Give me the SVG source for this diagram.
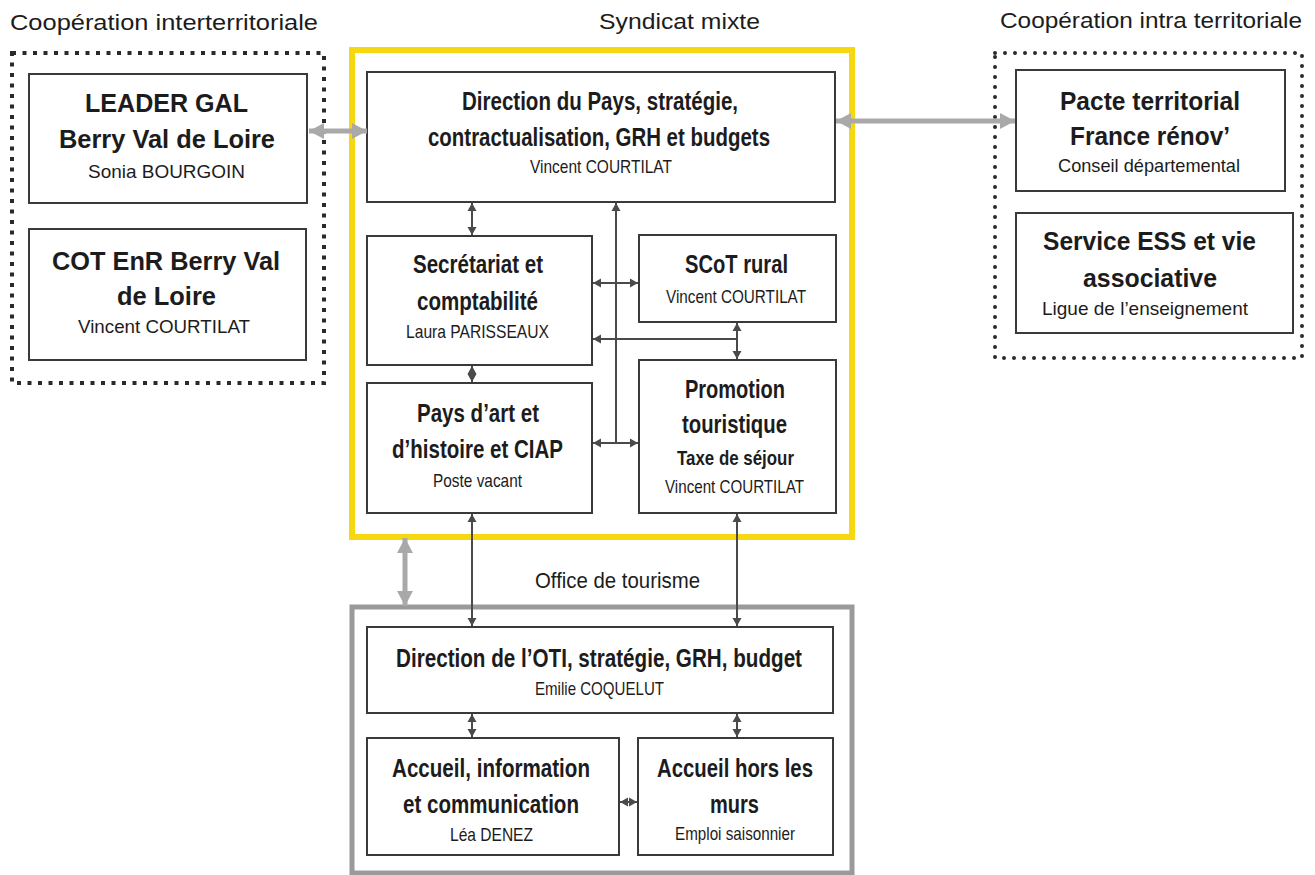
<svg xmlns="http://www.w3.org/2000/svg" width="1315" height="875" viewBox="0 0 1315 875">
<style>
text{font-family:"Liberation Sans Narrow","Liberation Sans",Arial,sans-serif;fill:#1c1c1c;text-anchor:middle}
.t{font-size:22px}
.b{font-size:26px;font-weight:bold}
.bs{font-size:21px;font-weight:bold}
.n{font-size:19px}
.box{fill:#fff;stroke:#3a3a3a;stroke-width:2}
.c{fill:none;stroke:#4a4a4a;stroke-width:2}
.g{fill:none;stroke:#a9a9a9;stroke-width:5}
</style>
<defs>
<marker id="ah" markerUnits="userSpaceOnUse" markerWidth="10" markerHeight="10" refX="8" refY="5" orient="auto-start-reverse">
<path d="M0,0.5 L8,5 L0,9.5 z" fill="#4a4a4a"/>
</marker>
<marker id="gh" markerUnits="userSpaceOnUse" markerWidth="16" markerHeight="16" refX="15" refY="8" orient="auto-start-reverse">
<path d="M0,0 L15,8 L0,16 z" fill="#a9a9a9"/>
</marker>
</defs>
<rect width="1315" height="875" fill="#fff"/>

<g id="titles">
<text class="t" x="164" y="30" textLength="308" lengthAdjust="spacingAndGlyphs">Coopération interterritoriale</text>
<text class="t" x="679.5" y="29" textLength="161" lengthAdjust="spacingAndGlyphs">Syndicat mixte</text>
<text class="t" x="1151" y="28" textLength="302" lengthAdjust="spacingAndGlyphs">Coopération intra territoriale</text>
</g>

<g id="groups">
<rect x="12" y="53" width="312" height="330" fill="none" stroke="#2a2a2a" stroke-width="4" stroke-dasharray="4 6.5"/>
<rect x="995" y="53" width="307" height="305" fill="none" stroke="#2a2a2a" stroke-width="4" stroke-dasharray="0 10" stroke-linecap="round"/>
<rect x="352" y="50" width="500" height="487" fill="none" stroke="#f5d80f" stroke-width="6"/>
<rect x="352" y="607" width="500" height="266" fill="none" stroke="#9a9a9a" stroke-width="5"/>
<text class="t" x="617.5" y="588" textLength="165" lengthAdjust="spacingAndGlyphs">Office de tourisme</text>
</g>

<g id="leader">
<rect class="box" x="29" y="74" width="278" height="129"/>
<text class="b" x="166.5" y="112" textLength="163" lengthAdjust="spacingAndGlyphs">LEADER GAL</text>
<text class="b" x="167" y="148" textLength="216" lengthAdjust="spacingAndGlyphs">Berry Val de Loire</text>
<text class="n" x="166.5" y="178" textLength="157" lengthAdjust="spacingAndGlyphs">Sonia BOURGOIN</text>
</g>
<g id="cot">
<rect class="box" x="29" y="229" width="277" height="131"/>
<text class="b" x="166" y="270" textLength="228" lengthAdjust="spacingAndGlyphs">COT EnR Berry Val</text>
<text class="b" x="166.5" y="305" textLength="99" lengthAdjust="spacingAndGlyphs">de Loire</text>
<text class="n" x="164" y="333" textLength="172" lengthAdjust="spacingAndGlyphs">Vincent COURTILAT</text>
</g>

<g id="direction-pays">
<rect class="box" x="367" y="72" width="468" height="130"/>
<text class="b" x="600" y="110" textLength="276" lengthAdjust="spacingAndGlyphs">Direction du Pays, stratégie,</text>
<text class="b" x="599" y="146" textLength="342" lengthAdjust="spacingAndGlyphs">contractualisation, GRH et budgets</text>
<text class="n" x="601" y="173" textLength="142" lengthAdjust="spacingAndGlyphs">Vincent COURTILAT</text>
</g>
<g id="secretariat">
<rect class="box" x="367" y="236" width="225" height="129"/>
<text class="b" x="478" y="273" textLength="130" lengthAdjust="spacingAndGlyphs">Secrétariat et</text>
<text class="b" x="477.5" y="310" textLength="121" lengthAdjust="spacingAndGlyphs">comptabilité</text>
<text class="n" x="477.5" y="338" textLength="143" lengthAdjust="spacingAndGlyphs">Laura PARISSEAUX</text>
</g>
<g id="scot">
<rect class="box" x="639" y="235" width="197" height="87"/>
<text class="b" x="736.5" y="273" textLength="103" lengthAdjust="spacingAndGlyphs">SCoT rural</text>
<text class="n" x="736" y="303" textLength="140" lengthAdjust="spacingAndGlyphs">Vincent COURTILAT</text>
</g>
<g id="pays-art">
<rect class="box" x="367" y="383" width="225" height="130"/>
<text class="b" x="478" y="422" textLength="122" lengthAdjust="spacingAndGlyphs">Pays d’art et</text>
<text class="b" x="477.5" y="458" textLength="171" lengthAdjust="spacingAndGlyphs">d’histoire et CIAP</text>
<text class="n" x="477.5" y="487" textLength="89" lengthAdjust="spacingAndGlyphs">Poste vacant</text>
</g>
<g id="promotion">
<rect class="box" x="639" y="360" width="197" height="153"/>
<text class="b" x="735" y="398" textLength="100" lengthAdjust="spacingAndGlyphs">Promotion</text>
<text class="b" x="734.5" y="433" textLength="105" lengthAdjust="spacingAndGlyphs">touristique</text>
<text class="bs" x="735.5" y="465" textLength="117" lengthAdjust="spacingAndGlyphs">Taxe de séjour</text>
<text class="n" x="734.5" y="493" textLength="139" lengthAdjust="spacingAndGlyphs">Vincent COURTILAT</text>
</g>

<g id="pacte">
<rect class="box" x="1016" y="70" width="269" height="121"/>
<text class="b" x="1150" y="110" textLength="180" lengthAdjust="spacingAndGlyphs">Pacte territorial</text>
<text class="b" x="1150" y="145" textLength="160" lengthAdjust="spacingAndGlyphs">France rénov’</text>
<text class="n" x="1149" y="172" textLength="182" lengthAdjust="spacingAndGlyphs">Conseil départemental</text>
</g>
<g id="ess">
<rect class="box" x="1016" y="213" width="277" height="120"/>
<text class="b" x="1149.5" y="250" textLength="213" lengthAdjust="spacingAndGlyphs">Service ESS et vie</text>
<text class="b" x="1150" y="287" textLength="134" lengthAdjust="spacingAndGlyphs">associative</text>
<text class="n" x="1145" y="315" textLength="206" lengthAdjust="spacingAndGlyphs">Ligue de l’enseignement</text>
</g>

<g id="direction-oti">
<rect class="box" x="367" y="627" width="466" height="86"/>
<text class="b" x="599" y="667" textLength="406" lengthAdjust="spacingAndGlyphs">Direction de l’OTI, stratégie, GRH, budget</text>
<text class="n" x="599.5" y="695" textLength="129" lengthAdjust="spacingAndGlyphs">Emilie COQUELUT</text>
</g>
<g id="accueil-info">
<rect class="box" x="367" y="738" width="252" height="117"/>
<text class="b" x="491" y="777" textLength="198" lengthAdjust="spacingAndGlyphs">Accueil, information</text>
<text class="b" x="491" y="813" textLength="176" lengthAdjust="spacingAndGlyphs">et communication</text>
<text class="n" x="491.5" y="841" textLength="83" lengthAdjust="spacingAndGlyphs">Léa DENEZ</text>
</g>
<g id="accueil-hors">
<rect class="box" x="638" y="738" width="195" height="117"/>
<text class="b" x="735" y="777" textLength="156" lengthAdjust="spacingAndGlyphs">Accueil hors les</text>
<text class="b" x="734.5" y="813" textLength="49" lengthAdjust="spacingAndGlyphs">murs</text>
<text class="n" x="735" y="840" textLength="120" lengthAdjust="spacingAndGlyphs">Emploi saisonnier</text>
</g>

<g id="connectors">
<line class="g" x1="309" y1="131" x2="367" y2="131" marker-start="url(#gh)" marker-end="url(#gh)"/>
<line class="g" x1="836" y1="121" x2="1015" y2="121" marker-start="url(#gh)" marker-end="url(#gh)"/>
<line class="g" x1="405" y1="538" x2="405" y2="606" marker-start="url(#gh)" marker-end="url(#gh)"/>
<line class="c" x1="472" y1="203" x2="472" y2="235" marker-start="url(#ah)" marker-end="url(#ah)"/>
<line class="c" x1="616" y1="443" x2="616" y2="203" marker-end="url(#ah)"/>
<line class="c" x1="593" y1="443" x2="638" y2="443" marker-start="url(#ah)" marker-end="url(#ah)"/>
<line class="c" x1="593" y1="283" x2="638" y2="283" marker-start="url(#ah)" marker-end="url(#ah)"/>
<line class="c" x1="737" y1="323" x2="737" y2="359" marker-start="url(#ah)" marker-end="url(#ah)"/>
<line class="c" x1="737" y1="339" x2="593" y2="339" marker-end="url(#ah)"/>
<line class="c" x1="472" y1="366" x2="472" y2="382" marker-start="url(#ah)" marker-end="url(#ah)"/>
<line class="c" x1="472" y1="514" x2="472" y2="626" marker-start="url(#ah)" marker-end="url(#ah)"/>
<line class="c" x1="737" y1="514" x2="737" y2="626" marker-start="url(#ah)" marker-end="url(#ah)"/>
<line class="c" x1="472" y1="714" x2="472" y2="737" marker-start="url(#ah)" marker-end="url(#ah)"/>
<line class="c" x1="737" y1="714" x2="737" y2="737" marker-start="url(#ah)" marker-end="url(#ah)"/>
<line class="c" x1="620" y1="802" x2="637" y2="802" marker-start="url(#ah)" marker-end="url(#ah)"/>
</g>
</svg>
